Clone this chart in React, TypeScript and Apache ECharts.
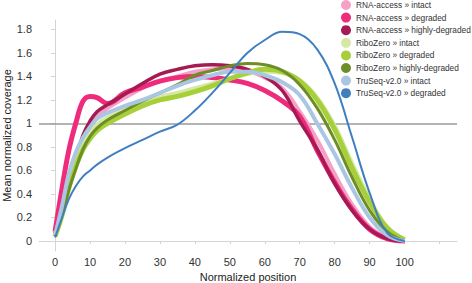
import React, { useEffect, useRef } from "react";
import * as echarts from "echarts";

const positions = [0, 2, 4, 6, 8, 10, 12, 15, 20, 25, 30, 35, 40, 45, 50, 55, 60, 65, 70, 75, 80, 85, 90, 95, 100];

const seriesNames = [
  "RNA-access » intact",
  "RNA-access » degraded",
  "RNA-access » highly-degraded",
  "RiboZero » intact",
  "RiboZero » degraded",
  "RiboZero » highly-degraded",
  "TruSeq-v2.0 » intact",
  "TruSeq-v2.0 » degraded",
];

const rnaAccessIntact = [0.06, 0.3, 0.52, 0.7, 0.86, 0.98, 1.06, 1.13, 1.22, 1.3, 1.36, 1.4, 1.44, 1.46, 1.47, 1.45, 1.39, 1.3, 1.1, 0.86, 0.57, 0.31, 0.12, 0.03, 0.0];
const rnaAccessDegraded = [0.08, 0.45, 0.78, 1.01, 1.19, 1.23, 1.22, 1.17, 1.26, 1.31, 1.36, 1.39, 1.4, 1.39, 1.37, 1.34, 1.28, 1.19, 1.06, 0.77, 0.5, 0.27, 0.1, 0.02, 0.0];
const rnaAccessHighly = [0.06, 0.28, 0.5, 0.7, 0.9, 1.02, 1.1, 1.16, 1.25, 1.34, 1.42, 1.46, 1.49, 1.5, 1.49, 1.46, 1.4, 1.28, 1.02, 0.78, 0.49, 0.26, 0.1, 0.02, 0.0];
const riboIntact = [0.05, 0.26, 0.5, 0.68, 0.82, 0.92, 0.99, 1.05, 1.12, 1.19, 1.23, 1.26, 1.3, 1.34, 1.38, 1.42, 1.44, 1.43, 1.37, 1.22, 0.98, 0.66, 0.36, 0.12, 0.01];
const riboDegraded = [0.04, 0.22, 0.46, 0.64, 0.78, 0.87, 0.94, 1.0, 1.08, 1.15, 1.2, 1.23, 1.27, 1.32, 1.38, 1.43, 1.46, 1.44, 1.36, 1.2, 0.95, 0.62, 0.33, 0.11, 0.01];
const riboHighly = [0.04, 0.22, 0.44, 0.62, 0.78, 0.89, 0.96, 1.03, 1.11, 1.19, 1.26, 1.33, 1.41, 1.45, 1.49, 1.51, 1.5, 1.45, 1.33, 1.13, 0.86, 0.54, 0.26, 0.08, 0.0];
const truseqIntact = [0.05, 0.3, 0.58, 0.76, 0.88, 0.97, 1.04, 1.09, 1.15, 1.2, 1.26, 1.32, 1.37, 1.41, 1.44, 1.44, 1.41, 1.35, 1.24, 1.0, 0.74, 0.45, 0.2, 0.05, 0.0];
const truseqDegraded = [0.03, 0.2, 0.36, 0.47, 0.55, 0.6, 0.65, 0.71, 0.79, 0.86, 0.93, 0.99, 1.11, 1.26, 1.43, 1.6, 1.71, 1.78, 1.76, 1.63, 1.34, 0.88, 0.41, 0.07, 0.0];

const seriesValues = [
  rnaAccessIntact,
  rnaAccessDegraded,
  rnaAccessHighly,
  riboIntact,
  riboDegraded,
  riboHighly,
  truseqIntact,
  truseqDegraded,
];

const colors = ["#f5a0c6", "#ef2b7c", "#a51a52", "#d5e9a4", "#a6cf3a", "#6d8d27", "#abc6e3", "#3f7fc0"];
const widths = [4, 5, 3.5, 4, 5, 3, 4, 2];

const yTicks = [0, 0.2, 0.4, 0.6, 0.8, 1, 1.2, 1.4, 1.6, 1.8];
const xTicks = [0, 10, 20, 30, 40, 50, 60, 70, 80, 90, 100];
const xTickMarks = [0, 10, 20, 30, 40, 50, 60, 70, 80, 90, 100, 110];

export default function App() {
  const ref = useRef<HTMLDivElement>(null);
  useEffect(() => {
    if (!ref.current) return;
    const chart = echarts.init(ref.current, undefined, { renderer: "svg" });
    const font = "Liberation Sans, Arial, sans-serif";
    const series: any[] = seriesNames.map((name, i) => ({
      name,
      type: "line",
      data: positions.map((p, j) => [p, seriesValues[i][j]]),
      showSymbol: false,
      symbol: "none",
      smooth: 0.4,
      lineStyle: { color: colors[i], width: widths[i] },
      itemStyle: { color: colors[i] },
      z: 2 + i,
    }));
    series[0].markLine = {
      silent: true,
      symbol: "none",
      label: { show: false },
      lineStyle: { color: "#9a9a9a", width: 1.5, type: "solid" },
      data: [{ yAxis: 1 }],
      z: 1,
    };
    chart.setOption({
      animation: false,
      grid: { left: 39, right: 15, top: 20, bottom: 32, containLabel: false, outerBoundsMode: "none" },
      legend: {
        orient: "vertical",
        left: 336,
        top: -5,
        icon: "circle",
        itemWidth: 10,
        itemHeight: 10,
        itemGap: 2.6,
        selectedMode: false,
        textStyle: {
          fontFamily: font,
          fontSize: 8.3,
          color: "#333",
        },
        data: seriesNames,
      },
      xAxis: {
        type: "value",
        min: -4.6,
        max: 115,
        name: "Normalized position",
        nameLocation: "middle",
        nameGap: 20,
        nameMoveOverlap: false,
        nameTextStyle: { fontFamily: font, fontSize: 11, color: "#222" },
        axisLine: { show: true, lineStyle: { color: "#d4d4d4", width: 1 } },
        axisTick: { show: true, length: 3, customValues: xTickMarks, lineStyle: { color: "#d4d4d4" } },
        axisLabel: { customValues: xTicks, fontFamily: font, fontSize: 11, color: "#333", margin: 5 },
        splitLine: { show: false },
      },
      yAxis: {
        type: "value",
        min: -0.085,
        max: 1.88,
        name: "Mean normalized coverage",
        nameLocation: "middle",
        nameGap: 27,
        nameMoveOverlap: false,
        nameTextStyle: { fontFamily: font, fontSize: 11, color: "#222" },
        axisLine: { show: true, lineStyle: { color: "#d4d4d4", width: 1 } },
        axisTick: { show: true, length: 4, customValues: yTicks, lineStyle: { color: "#d4d4d4" } },
        axisLabel: {
          customValues: yTicks,
          fontFamily: font,
          fontSize: 11,
          color: "#333",
          margin: 7,
          formatter: (v: number) => String(Math.round(v * 10) / 10),
        },
        splitLine: { show: false },
      },
      series,
    });
    return () => chart.dispose();
  }, []);
  return (
    <div
      ref={ref}
      style={{ position: "fixed", left: 0, top: 0, width: 472, height: 283, background: "#fff" }}
    />
  );
}
